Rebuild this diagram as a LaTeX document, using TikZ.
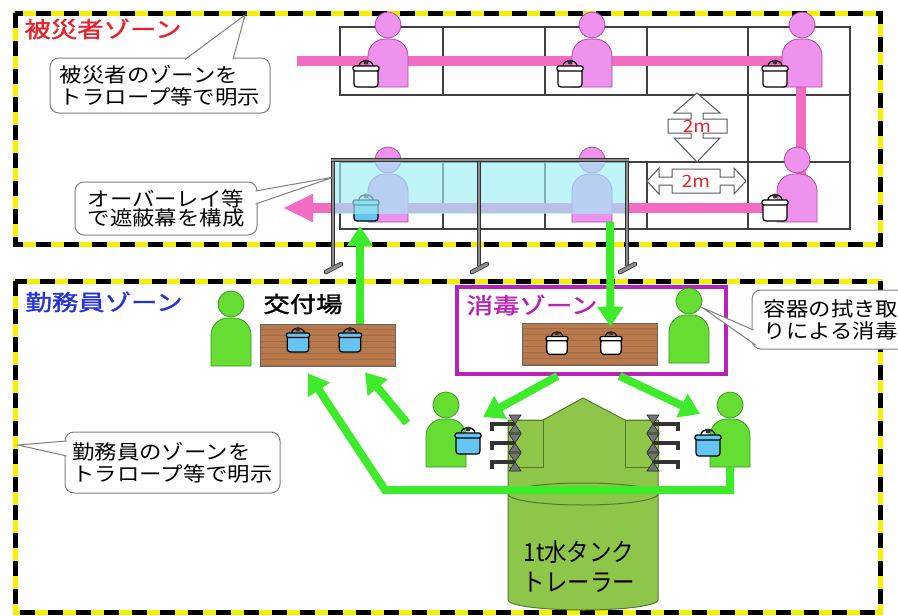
\documentclass[tikz,border=0pt]{standalone}
\usepackage{fontspec}
\usetikzlibrary{arrows.meta,calc}

\newfontfamily\jp[FakeStretch=1.12]{Noto Sans CJK JP}
\newfontfamily\jphead[FakeStretch=1.2,FakeBold=1.5]{Noto Sans CJK JP}
\newfontfamily\jptank[FakeStretch=0.9]{Noto Sans CJK JP}

\definecolor{ropeyellow}{HTML}{F5F000}
\definecolor{victimpink}{HTML}{EE92EE}
\definecolor{victimline}{HTML}{A050A0}
\definecolor{routepink}{HTML}{F26CC4}
\definecolor{workergreen}{HTML}{66DD33}
\definecolor{workerline}{HTML}{3A9A22}
\definecolor{flowgreen}{HTML}{3DEB2A}
\definecolor{tankgreen}{HTML}{8EC64A}
\definecolor{tankline}{HTML}{55772C}
\definecolor{wood}{HTML}{B87A4C}
\definecolor{wooddark}{HTML}{7A4A26}
\definecolor{pailblue}{HTML}{66C4F2}
\definecolor{screencyan}{HTML}{9EEFF7}
\definecolor{zonemagenta}{HTML}{B822B8}
\definecolor{titlered}{HTML}{E8202A}
\definecolor{titleblue}{HTML}{2430D8}

\tikzset{
    victim/.style={fill=victimpink, draw=victimline},
    worker/.style={fill=workergreen, draw=workerline},
    pics/person/.style={code={
        \filldraw[#1, line width=.8pt] (-20,0) [rounded corners=17pt]-- (-20,-48) -- (20,-48) [sharp corners]-- (20,0) -- cycle;
        \filldraw[#1, line width=.8pt] (0,-62) circle[radius=13pt];
    }},
    pics/pail/.style={code={
        \filldraw[fill=#1, line width=1.3pt, rounded corners=3pt] (-12,-7) rectangle (12,11);
        \filldraw[fill=#1, line width=1.3pt, rounded corners=2pt] (-13,-10) rectangle (13,-5);
        \draw[line width=1.3pt] (-7,-10) .. controls (-7,-17) and (7,-17) .. (7,-10);
        \fill[black!80] (0,-14) circle[radius=2.5pt];
    }},
    pics/valve/.style={code={
        \filldraw[fill=black!55, draw=black!85, line width=.6pt] (-6,-9) -- (6,-9) -- (0,0) -- cycle (-6,9) -- (6,9) -- (0,0) -- cycle;
    }},
}

\begin{document}
\begin{tikzpicture}[x=1pt, y=-1pt,
    rope/.style={draw=ropeyellow, line width=5pt, postaction={draw=black, dash pattern=on 15pt off 13pt}},
    wall/.style={draw=black!75, line width=1.2pt},
    route/.style={draw=routepink, line width=10pt, -{Triangle[length=30pt, width=26pt]}},
    flow/.style={draw=flowgreen, line width=8pt, -{Triangle[length=20pt, width=25pt]}},
    post/.style={draw=black!80, line width=.8pt, double=black!45, double distance=2.2pt},
    foot/.style={draw=black!80, line width=.8pt, double=black!45, double distance=3pt, line cap=round},
    note/.style={draw=black!50, fill=white, line width=1pt, rounded corners=9pt, align=left, inner sep=0pt, font=\jp\fontsize{20}{22}\selectfont},
    notelink/.style={draw=black!50, line width=1pt},
    gauge/.style={draw=black!65, fill=white, line width=1pt},
    gaugetext/.style={text=titlered, font=\jp\fontsize{17}{17}\selectfont},
    title/.style={font=\jphead\fontsize{22}{24}\selectfont},
    table/.style={draw=black!60, fill=wood, line width=.6pt, minimum width=135pt, minimum height=42pt, inner sep=0pt,
        path picture={\foreach \k in {5,11,...,41}
            \draw[wooddark, opacity=.3, line width=1pt] ([yshift=-\k pt]path picture bounding box.north west) -- ([yshift=-\k pt]path picture bounding box.north east);}},
    tank/.style={fill=tankgreen, draw=tankline, line width=1pt},
    pipe/.style={draw=black!80, line width=4pt},
]
\fill[white] (0,0) rectangle (898,616);
\clip (0,0) rectangle (898,616);

% zone ropes
\draw[rope] (15,13) rectangle (880,244);
\draw[rope] (15,281) rectangle (880,612);

% queue grid
\draw[wall] (340,27) rectangle (850,95);
\draw[wall] (340,162) rectangle (850,229);
\draw[wall] (748,95) rectangle (850,162);
\foreach \x in {443,545,647,748}
    \draw[wall] (\x,27) -- (\x,95) (\x,162) -- (\x,229);

% route of the victims
\coordinate (queue) at (297,61);
\coordinate (turn) at (801,208);
\coordinate (exit) at (283,208);
\draw[route] (queue) -| (turn) -- (exit);

\coordinate (v1) at (388,87);
\coordinate (v2) at (592,87);
\coordinate (v3) at (802,87);
\coordinate (v4) at (797,222);
\coordinate (v5) at (592,222);
\coordinate (v6) at (388,222);
\foreach \p in {v1,v2,v3,v4,v5,v6}
    \pic at (\p) {person=victim};
\pic at (366,76) {pail=white};
\pic at (570,76) {pail=white};
\pic at (775,76) {pail=white};
\pic at (775,210) {pail=white};
\pic at (366,210) {pail=pailblue};

% screen
\fill[screencyan, opacity=.65] (333,160) rectangle (628,214);
\draw[post] (333,158) -- (333,266);
\draw[post] (479,158) -- (479,266);
\draw[post] (627,158) -- (627,266);
\draw[post] (331,160) -- (629,160);
\draw[foot] (326,272) -- (341,264);
\draw[foot] (472,272) -- (487,264);
\draw[foot] (620,272) -- (635,264);
\coordinate (screentip) at (334,177);

% 2 m spacing
\draw[gauge] (697,93) -- (720,113) -- (703,113) -- (703,119) -- (727,119) -- (727,133) -- (703,133) -- (703,138) -- (720,138) -- (697,162)
    -- (674,138) -- (691,138) -- (691,133) -- (668,133) -- (668,119) -- (691,119) -- (691,113) -- (674,113) -- cycle;
\node[gaugetext] (gapv) at (697,126) {2m};
\draw[gauge] (647,181) -- (659,168) -- (659,177) -- (672,177) -- (672,169) -- (720,169) -- (720,177) -- (734,177) -- (734,168) -- (746,181)
    -- (734,194) -- (734,185) -- (720,185) -- (720,193) -- (672,193) -- (672,185) -- (659,185) -- (659,194) -- cycle;
\node[gaugetext] (gaph) at (696,181) {2m};

% notes
\coordinate (ropetop) at (245,15);
\coordinate (ropeleft) at (18,445);
\node[note, minimum width=220pt, minimum height=55pt] (note1) at (160,85.5) {被災者のゾーンを\\トラロープ等で明示};
\fill[white] ([xshift=25pt,yshift=-2pt]note1.north) -- (ropetop) -- ([xshift=73pt,yshift=-2pt]note1.north) -- cycle;
\draw[notelink] ([xshift=25pt,yshift=-2pt]note1.north) -- (ropetop) -- ([xshift=73pt,yshift=-2pt]note1.north);

\node[note, minimum width=182pt, minimum height=53pt, font=\jp\fontsize{20}{17}\selectfont] (note2) at (166,208.5) {オーバーレイ等\\で遮蔽幕を構成};
\fill[white] ([xshift=-2pt,yshift=17.5pt]note2.east) -- (screentip) -- ([xshift=-2pt,yshift=4.5pt]note2.east) -- cycle;
\draw[notelink] ([xshift=-2pt,yshift=17.5pt]note2.east) -- (screentip) -- ([xshift=-2pt,yshift=4.5pt]note2.east);

\node[note, minimum width=215pt, minimum height=61pt] (note3) at (172.5,462.5) {勤務員のゾーンを\\トラロープ等で明示};
\fill[white] ([xshift=2pt,yshift=21.5pt]note3.west) -- (ropeleft) -- ([xshift=2pt,yshift=6.5pt]note3.west) -- cycle;
\draw[notelink] ([xshift=2pt,yshift=21.5pt]note3.west) -- (ropeleft) -- ([xshift=2pt,yshift=6.5pt]note3.west);

% titles
\node[title, text=titlered] (victimtitle) at (103,29) {被災者ゾーン};
\node[title, text=titleblue] (stafftitle) at (104,302) {勤務員ゾーン};

% disinfection zone and tables
\node[draw=zonemagenta, line width=4pt, minimum width=269pt, minimum height=87pt] (dzone) at (591.5,330.5) {};
\node[title, text=zonemagenta] (dtitle) at (532,305) {消毒ゾーン};
\node[title] (kofutitle) at (303,304) {交付場};
\node[table] (kofu) at (327.5,345) {};
\node[table] (shodoku) at (589.5,344) {};
\pic[scale=.9] at (298,342) {pail=pailblue};
\pic[scale=.9] at (350,342) {pail=pailblue};
\pic[scale=.85] at (557,345) {pail=white};
\pic[scale=.85] at (611,345) {pail=white};

% staff
\coordinate (w1) at (231,366);
\coordinate (w2) at (689,363);
\coordinate (w3) at (446,467);
\coordinate (w4) at (730,467);
\foreach \p in {w1,w2,w3,w4}
    \pic at (\p) {person=worker};

\node[note, minimum width=158pt, minimum height=59pt] (note4) at (831,319.5) {容器の拭き取\\りによる消毒};
\coordinate (wipe) at (703,308);
\fill[white] ([xshift=2pt,yshift=-10.5pt]note4.west) -- (wipe) -- ([xshift=4pt,yshift=-25.5pt]note4.west) -- cycle;
\draw[notelink] ([xshift=2pt,yshift=-10.5pt]note4.west) -- (wipe) -- ([xshift=4pt,yshift=-25.5pt]note4.west);

% 1t water tank trailer
\filldraw[tank] (508,420) -- (543,420) -- (583,398) -- (625,420) -- (658,420) -- (658,600)
    arc[start angle=0, end angle=-180, x radius=75pt, y radius=10pt] -- cycle;
\draw[tankline, line width=1pt] (583,494) ellipse[x radius=75pt, y radius=11pt];
\filldraw[tank] (508,420) rectangle (543,467);
\filldraw[tank] (625,420) rectangle (658,467);
\foreach \y in {424,443,462} {
    \draw[pipe] (492,\y+7) -- (492,\y) -- (515,\y);
    \draw[pipe] (678,\y+7) -- (678,\y) -- (653,\y);
    \pic at (515,\y) {valve};
    \pic at (653,\y) {valve};
}
\node[font=\jptank\fontsize{25}{30}\selectfont, align=center] (tanklabel) at (579,567) {1t水タンク\\トレーラー};

\pic at (468,443) {pail=pailblue};
\pic at (708,445) {pail=pailblue};

% flow of containers
\coordinate (handover) at (360,226);
\coordinate (loop) at (385,490);
\draw[flow] ($(kofu.north)+(32.5,0)$) -- (handover);
\draw[flow] ($(v5)+(18,0)$) -- ($(shodoku.north)+(21,4)$);
\draw[flow] ($(dzone.south)+(-34,0)$) -- ($(w3)+(37,-50)$);
\draw[flow] ($(dzone.south)+(28,0)$) -- ($(w4)+(-30,-53)$);
\draw[flow] ($(w3)+(-39,-44)$) -- ($(kofu.south)+(37.5,6)$);
\draw[flow] (w4) |- (loop) -- ($(kofu.south)+(-19.5,7)$);
\end{tikzpicture}
\end{document}
